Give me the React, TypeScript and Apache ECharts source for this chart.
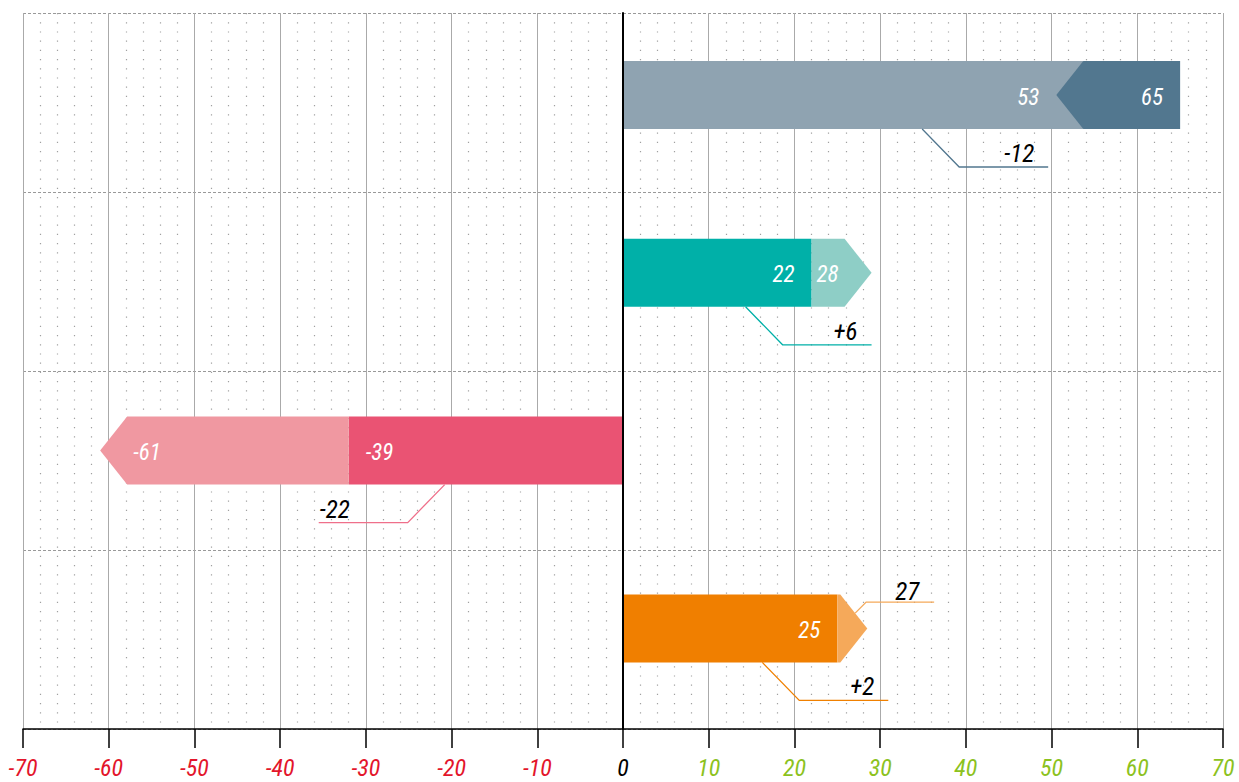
import React, { useEffect, useRef } from "react";
import * as echarts from "echarts";

// ---- data ----
const categories = ["A", "B", "C", "D"];
const previousValues = [65, 22, -39, 25];
const currentValues = [53, 28, -61, 27];
// boundary between the two coloured segments, as drawn
const splitValues = [53.7, 22, -32, 25];
// outer end of each bar (arrow tip or flat end), as drawn
const endValues = [65, 29, -61, 28.5];
const axisTicks = [-70, -60, -50, -40, -30, -20, -10, 0, 10, 20, 30, 40, 50, 60, 70];

// ---- styles ----
const innerColors = ["#8fa3b1", "#00b0a8", "#ea5373", "#f07f00"];
const outerColors = ["#52778f", "#8ecec6", "#f098a1", "#f5a95a"];
const leaderColors = ["#52778f", "#00b0a8", "#ef6f8a", "#f08000"];
const FONT = '"Roboto Condensed", Roboto, "Liberation Sans", sans-serif';

export default function App() {
  const ref = useRef<HTMLDivElement>(null);
  useEffect(() => {
    if (!ref.current) return;
    const chart = echarts.init(ref.current, undefined, { renderer: "svg" });

    const renderItem = (params: any, api: any) => {
      const i = params.dataIndex;
      const prev = previousValues[i];
      const curr = currentValues[i];
      const split = splitValues[i];
      const end = endValues[i];
      const band = api.size([0, 1])[1];
      const h = band * 0.38;
      const yc = api.coord([0, i])[1] - 7.5 - 1.2 * i;
      const top = yc - h / 2;
      const bot = yc + h / 2;
      const px = (v: number) => api.coord([v, i])[0];
      const dir = split >= 0 ? 1 : -1;
      const x0 = px(0) + dir * 1;
      const xs = px(split);
      const xe = px(end);
      const depth = 27;
      const grows = Math.abs(curr) >= Math.abs(prev);
      const children: any[] = [];
      const txt = (text: string, x: number, y: number, align: string, fill: string, size: number, vAlign = "middle") => ({
        type: "text",
        x,
        y,
        style: { text, fill, fontSize: size, fontStyle: "italic", fontFamily: FONT, align, verticalAlign: vAlign },
        z2: 10,
      });
      const fmt = (v: number) => String(v);

      // inner segment
      children.push({
        type: "rect",
        shape: { x: Math.min(x0, xs), y: top, width: Math.abs(xs - x0), height: h },
        style: { fill: innerColors[i] },
      });
      let innerLabelAnchor = xs;
      let outerLabelX = xe - dir * 17;
      if (!grows) {
        // notch chevron pointing inwards
        const notch = xs - dir * depth;
        children.push({
          type: "polygon",
          shape: { points: [[xs, top], [xe, top], [xe, bot], [xs, bot], [notch, yc]] },
          style: { fill: outerColors[i] },
        });
        innerLabelAnchor = notch;
      } else {
        const sh = xe - dir * depth;
        children.push({
          type: "polygon",
          shape: { points: [[xs, top], [sh, top], [xe, yc], [sh, bot], [xs, bot]] },
          style: { fill: outerColors[i] },
        });
        outerLabelX = xe - dir * 33;
      }
      const alignOut = dir > 0 ? "right" : "left";
      const innerVal = grows ? prev : curr;
      const outerVal = grows ? curr : prev;
      children.push(txt(fmt(innerVal), innerLabelAnchor - dir * 17, yc + 2, alignOut, "#ffffff", 23));

      const outerWidth = Math.abs(xe - xs);
      if (outerWidth > 45) {
        children.push(txt(fmt(outerVal), outerLabelX, yc + 2, alignOut, "#ffffff", 23));
      } else {
        // label outside with a leader from the arrow's upper slope
        const sh = xe - dir * depth;
        const t = 0.55;
        const lx = sh + t * (xe - sh);
        const ly = top + t * (h / 2);
        const kx = lx + dir * 11;
        const ky = ly - 11;
        const ex = kx + dir * 68;
        children.push({
          type: "polyline",
          shape: { points: [[lx, ly], [kx, ky], [ex, ky]] },
          style: { stroke: outerColors[i], lineWidth: 1.3, fill: null },
        });
        children.push(txt(fmt(outerVal), ex - dir * 15, ky + 2, alignOut, "#000000", 25, "bottom"));
      }

      // difference leader
      const diff = curr - prev;
      const sx = px(0.65 * split);
      const sy = bot;
      const kx2 = sx + dir * 37;
      const ky2 = sy + 38;
      const hx = kx2 + dir * 89;
      children.push({
        type: "polyline",
        shape: { points: [[sx, sy], [kx2, ky2], [hx, ky2]] },
        style: { stroke: leaderColors[i], lineWidth: 1.3, fill: null },
      });
      const dtext = (diff > 0 ? "+" : "") + diff;
      if (dir > 0) {
        children.push(txt(dtext, hx - 14, ky2 - 1, "right", "#000000", 25, "bottom"));
      } else {
        children.push(txt(dtext, hx + 1, ky2 - 1, "left", "#000000", 25, "bottom"));
      }
      return { type: "group", children };
    };

    const richBase = { fontSize: 24, lineHeight: 20, fontStyle: "italic", fontFamily: FONT };
    const option: any = {
      animation: false,
      backgroundColor: "#ffffff",
      grid: { left: 23, right: 16, top: 13, bottom: 53, containLabel: false },
      xAxis: {
        type: "value",
        min: axisTicks[0],
        max: axisTicks[axisTicks.length - 1],
        interval: 10,
        axisLine: { show: true, onZero: false, lineStyle: { color: "#000", width: 1.5 } },
        axisTick: { show: true, length: 19, lineStyle: { color: "#000", width: 1.5 } },
        axisLabel: {
          margin: 29,
          lineHeight: 20,
          formatter: (v: number) => (v < 0 ? `{n|${v}}` : v > 0 ? `{p|${v}}` : `{z|${v}}`),
          rich: {
            n: { ...richBase, color: "#e3152b" },
            p: { ...richBase, color: "#8cc21e" },
            z: { ...richBase, color: "#000" },
          },
        },
        splitLine: { show: true, lineStyle: { color: "#aaaaaa", width: 1 } },
        minorTick: { show: false, splitNumber: 5 },
        minorSplitLine: { show: true, lineStyle: { color: "#a0a0a0", width: 1.2, type: [1.2, 8] } },
      },
      yAxis: {
        type: "category",
        data: categories,
        inverse: true,
        axisLine: { show: true, onZero: true, lineStyle: { color: "#000", width: 2 } },
        axisTick: { show: false },
        axisLabel: { show: false },
        splitLine: { show: true, lineStyle: { color: "#999999", width: 1, type: [3, 2] } },
      },
      series: [
        {
          type: "custom",
          renderItem,
          encode: { x: [1, 2], y: 0 },
          data: categories.map((c, i) => [i, splitValues[i], endValues[i]]),
        },
      ],
    };
    chart.setOption(option);
    return () => chart.dispose();
  }, []);
  return <div ref={ref} style={{ position: "fixed", left: 0, top: 0, width: 1239, height: 782 }} />;
}
